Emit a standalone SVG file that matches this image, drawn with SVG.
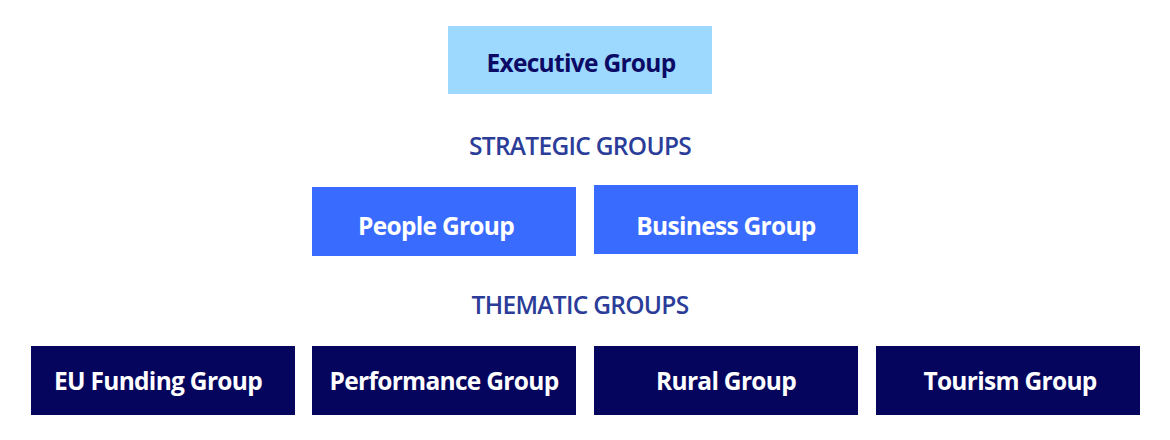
<svg xmlns="http://www.w3.org/2000/svg" width="1170" height="440" viewBox="0 0 1170 440">
<style>
.t{font-family:"Open Sans","Liberation Sans",sans-serif;font-weight:700;font-size:24.5px;text-anchor:middle;letter-spacing:-0.7px}
.h{font-family:"Open Sans","Liberation Sans",sans-serif;font-weight:600;font-size:24.5px;text-anchor:middle;fill:#2b3d99;letter-spacing:-0.7px}
.exec rect{fill:#9dd8ff}
.exec text{fill:#0b0b66}
.strat rect{fill:#3a6bff}
.strat text{fill:#ffffff}
.them rect{fill:#05055e}
.them text{fill:#ffffff}
</style>
<rect width="1170" height="440" fill="#ffffff"/>
<g id="connectors"></g>
<g id="executive" class="exec"><rect x="448" y="26" width="264" height="68"/><text class="t" x="581" y="72">Executive Group</text></g>
<g id="strategic-heading"><text class="h" x="580" y="155">STRATEGIC GROUPS</text></g>
<g id="people" class="strat"><rect x="312" y="187" width="264" height="69"/><text class="t" x="436" y="235">People Group</text></g>
<g id="business" class="strat"><rect x="594" y="185" width="264" height="69"/><text class="t" x="726" y="235">Business Group</text></g>
<g id="thematic-heading"><text class="h" x="580" y="314">THEMATIC GROUPS</text></g>
<g id="eu-funding" class="them"><rect x="31" y="346" width="264" height="69"/><text class="t" x="158" y="390">EU Funding Group</text></g>
<g id="performance" class="them"><rect x="312" y="346" width="264" height="69"/><text class="t" x="444" y="390">Performance Group</text></g>
<g id="rural" class="them"><rect x="594" y="346" width="264" height="69"/><text class="t" x="726" y="390">Rural Group</text></g>
<g id="tourism" class="them"><rect x="876" y="346" width="264" height="69"/><text class="t" x="1010" y="390">Tourism Group</text></g>
</svg>
